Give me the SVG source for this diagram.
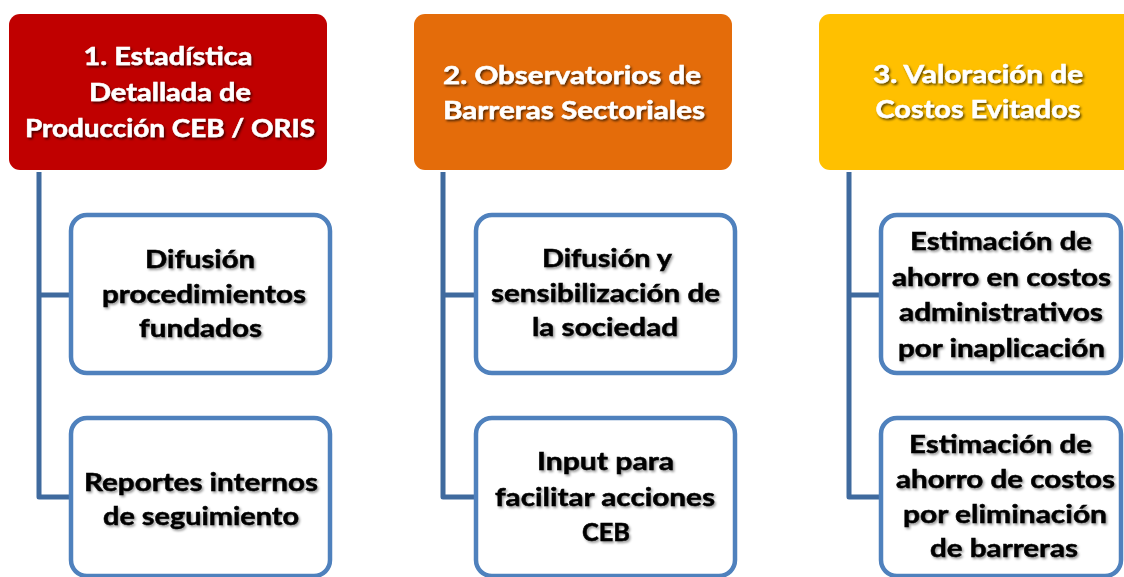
<svg xmlns="http://www.w3.org/2000/svg" width="1124" height="577" viewBox="0 0 1124 577">
<style>
.hd{stroke:none}
.ch{fill:#FFFFFF;stroke:#4F81BD;stroke-width:4.5}
.cn{fill:none;stroke:#3F6A9E;stroke-width:5;stroke-linejoin:round}
.ht{font-family:Lato,"Liberation Sans",sans-serif;font-weight:bold;font-size:25.5px;fill:#FFFFFF;stroke:#FFFFFF;stroke-width:0.5;text-anchor:middle;filter:url(#hs)}
.ct{font-family:Lato,"Liberation Sans",sans-serif;font-weight:bold;font-size:25.5px;fill:#000000;stroke:#000000;stroke-width:0.5;text-anchor:middle;filter:url(#cs)}
</style>
<defs>
<filter id="hs" x="-10%" y="-30%" width="120%" height="160%"><feDropShadow dx="1.5" dy="1.8" stdDeviation="1.2" flood-color="#000000" flood-opacity="0.65"/></filter>
<filter id="cs" x="-10%" y="-30%" width="120%" height="160%"><feDropShadow dx="1.5" dy="1.8" stdDeviation="1.2" flood-color="#000000" flood-opacity="0.4"/></filter>
</defs>
<rect width="1124" height="577" fill="#FFFFFF"/>
<g id="connectors">
<path class="cn" d="M39,172 V497 H71 M39,295 H71"/>
<path class="cn" d="M443,172 V497 H476 M443,295 H476"/>
<path class="cn" d="M849,172 V497 H881 M849,295 H881"/>
</g>
<g id="h1">
<rect class="hd" x="9" y="14" width="318" height="156" rx="11" fill="#C00000"/>
<text class="ht"><tspan x="168" y="65" textLength="169" lengthAdjust="spacingAndGlyphs">1. Estadística</tspan><tspan x="170" y="101" textLength="162" lengthAdjust="spacingAndGlyphs">Detallada de</tspan><tspan x="170" y="137" textLength="290" lengthAdjust="spacingAndGlyphs">Producción CEB / ORIS</tspan></text>
</g>
<g id="h2">
<rect class="hd" x="414" y="14" width="318" height="156" rx="11" fill="#E46C0A"/>
<text class="ht"><tspan x="572" y="84" textLength="258" lengthAdjust="spacingAndGlyphs">2. Observatorios de</tspan><tspan x="574" y="119" textLength="262" lengthAdjust="spacingAndGlyphs">Barreras Sectoriales</tspan></text>
</g>
<g id="h3">
<rect class="hd" x="819" y="14" width="318" height="156" rx="11" fill="#FFC000"/>
<text class="ht"><tspan x="978" y="83" textLength="210" lengthAdjust="spacingAndGlyphs">3. Valoración de</tspan><tspan x="978" y="118" textLength="205" lengthAdjust="spacingAndGlyphs">Costos Evitados</tspan></text>
</g>
<g id="c1a">
<rect class="ch" x="71" y="215" width="259" height="158" rx="16"/>
<text class="ct"><tspan x="200" y="268" textLength="110" lengthAdjust="spacingAndGlyphs">Difusión</tspan><tspan x="204" y="303" textLength="204" lengthAdjust="spacingAndGlyphs">procedimientos</tspan><tspan x="200.5" y="337" textLength="123" lengthAdjust="spacingAndGlyphs">fundados</tspan></text>
</g>
<g id="c1b">
<rect class="ch" x="71" y="418" width="259" height="158" rx="16"/>
<text class="ct"><tspan x="201" y="491" textLength="234" lengthAdjust="spacingAndGlyphs">Reportes internos</tspan><tspan x="201" y="525" textLength="196" lengthAdjust="spacingAndGlyphs">de seguimiento</tspan></text>
</g>
<g id="c2a">
<rect class="ch" x="476" y="215" width="259" height="158" rx="16"/>
<text class="ct"><tspan x="607" y="267" textLength="130" lengthAdjust="spacingAndGlyphs">Difusión y</tspan><tspan x="605.5" y="302" textLength="229" lengthAdjust="spacingAndGlyphs">sensibilización de</tspan><tspan x="605" y="336" textLength="146" lengthAdjust="spacingAndGlyphs">la sociedad</tspan></text>
</g>
<g id="c2b">
<rect class="ch" x="476" y="418" width="259" height="158" rx="16"/>
<text class="ct"><tspan x="605.5" y="470" textLength="137" lengthAdjust="spacingAndGlyphs">Input para</tspan><tspan x="605" y="506" textLength="220" lengthAdjust="spacingAndGlyphs">facilitar acciones</tspan><tspan x="606" y="541" textLength="48" lengthAdjust="spacingAndGlyphs">CEB</tspan></text>
</g>
<g id="c3a">
<rect class="ch" x="881" y="215" width="240" height="158" rx="16"/>
<text class="ct"><tspan x="1001" y="250" textLength="182" lengthAdjust="spacingAndGlyphs">Estimación de</tspan><tspan x="1001.5" y="286" textLength="219" lengthAdjust="spacingAndGlyphs">ahorro en costos</tspan><tspan x="1001" y="321" textLength="204" lengthAdjust="spacingAndGlyphs">administrativos</tspan><tspan x="1001.5" y="357" textLength="207" lengthAdjust="spacingAndGlyphs">por inaplicación</tspan></text>
</g>
<g id="c3b">
<rect class="ch" x="881" y="418" width="240" height="158" rx="16"/>
<text class="ct"><tspan x="1000.5" y="453" textLength="183" lengthAdjust="spacingAndGlyphs">Estimación de</tspan><tspan x="1005.5" y="488" textLength="219" lengthAdjust="spacingAndGlyphs">ahorro de costos</tspan><tspan x="1005" y="523" textLength="204" lengthAdjust="spacingAndGlyphs">por eliminación</tspan><tspan x="1004" y="557" textLength="148" lengthAdjust="spacingAndGlyphs">de barreras</tspan></text>
</g>
</svg>
